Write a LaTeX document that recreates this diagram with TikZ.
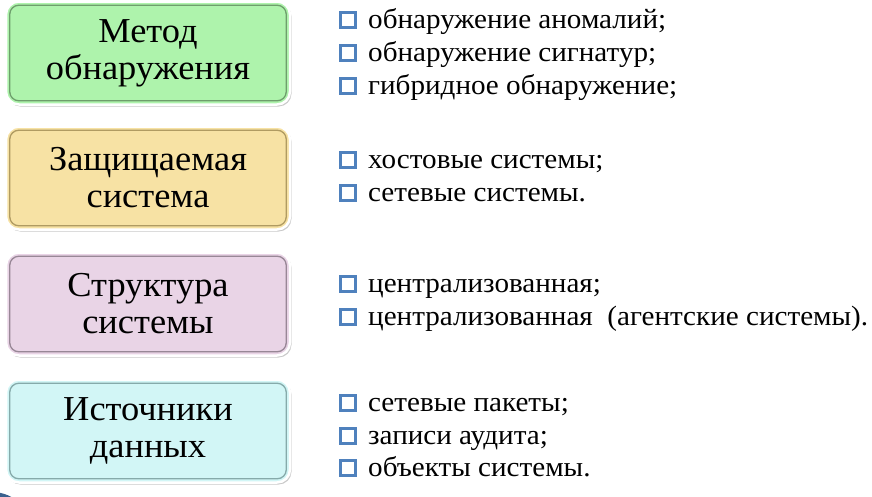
\documentclass[tikz,border=0pt]{standalone}
\usepackage{fontspec}
\setmainfont[FakeStretch=1.04]{Liberation Serif}
\usetikzlibrary{shadows}

\definecolor{metodfill}{HTML}{AEF3AC}
\definecolor{metodrim}{HTML}{6E9E6C}
\definecolor{zashfill}{HTML}{F7E2A4}
\definecolor{zashrim}{HTML}{B09B62}
\definecolor{strukfill}{HTML}{E9D4E6}
\definecolor{strukrim}{HTML}{988796}
\definecolor{istfill}{HTML}{D2F6F6}
\definecolor{istrim}{HTML}{86AAAA}
\definecolor{bul}{HTML}{4F81BD}

\begin{document}
\begin{tikzpicture}[
  x=1pt, y=-1pt,
  cat/.style={rectangle, rounded corners=13pt, minimum width=284pt,
              minimum height=103pt, align=center, draw=white, line width=2.5pt,
              font=\fontsize{35}{37}\selectfont,
              drop shadow={shadow xshift=1.5pt, shadow yshift=-2pt,
                           opacity=0.35, fill=black!60}},
  rim/.style={rounded corners=9pt, line width=1.3pt},
  item/.style={anchor=base west, inner sep=0pt, font=\fontsize{28}{33}\selectfont},
  sq/.style={rectangle, minimum size=14.5pt, inner sep=0pt, fill=white,
             draw=bul, line width=2.8pt,
             drop shadow={shadow xshift=1.3pt, shadow yshift=-1.3pt,
                          opacity=0.7, fill=bul!70!black}}
]
\useasboundingbox (0,0) rectangle (872,496);
\fill[white] (0,0) rectangle (872,496);

% categories (left column)
\node[cat, fill=metodfill] (metod) at (148,53)  {Метод\\обнаружения};
\node[cat, fill=zashfill]  (zash)  at (148,178) {Защищаемая\\система};
\node[cat, fill=strukfill] (struk) at (148,304) {Структура\\системы};
\node[cat, fill=istfill]   (ist)   at (148,431) {Источники\\данных};

% inner rims
\foreach \nm/\col in {metod/metodrim, zash/zashrim, struk/strukrim, ist/istrim}
  \draw[rim, draw=\col] ([xshift=5pt,yshift=-5pt]\nm.north west)
    rectangle ([xshift=-5pt,yshift=5pt]\nm.south east);

% bullet lists (right column)
\foreach \nm/\yy/\txt in {
    m1/28/{обнаружение аномалий;},
    m2/61/{обнаружение сигнатур;},
    m3/94/{гибридное обнаружение;},
    z1/168/{хостовые системы;},
    z2/201/{сетевые системы.},
    s1/292/{централизованная;},
    s2/325/{централизованная\ \ (агентские системы).},
    i1/411/{сетевые пакеты;},
    i2/444/{записи аудита;},
    i3/476/{объекты системы.}}
{
  \node[item] (\nm) at (368,\yy) {\txt};
  \node[sq] (\nm sq) at ([xshift=-20pt,yshift=8pt]\nm.base west) {};
}

% corner of the slide ornament
\begin{scope}
  \clip (0,0) rectangle (872,496);
  \fill[bul!75!black] (-8,532) circle (40pt);
\end{scope}
\end{tikzpicture}
\end{document}
